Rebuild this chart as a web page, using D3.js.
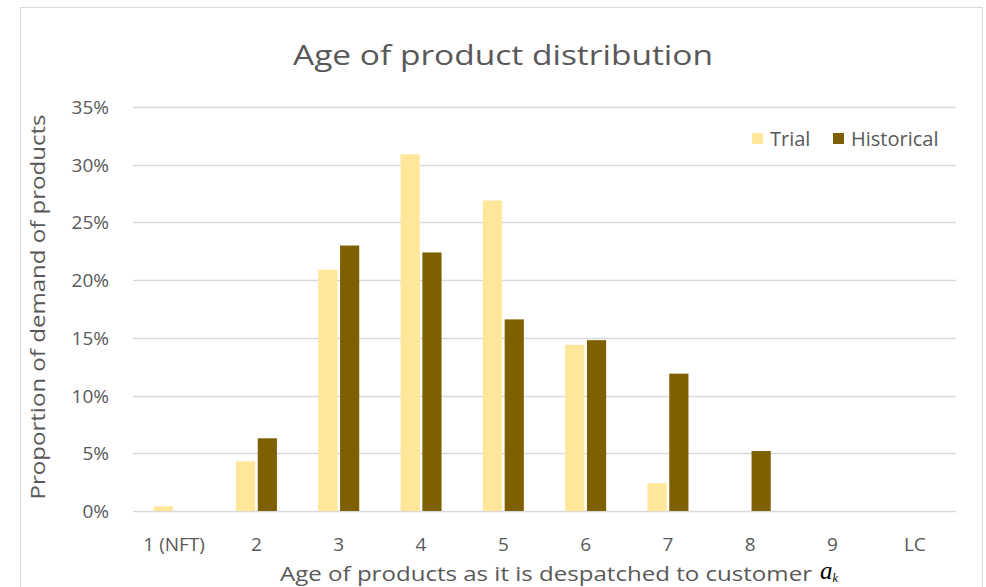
<!DOCTYPE html>
<html>
<head>
<meta charset="utf-8">
<script src="https://cdn.jsdelivr.net/npm/d3@7"></script>
<style>
  body { margin: 0; background: #fff; }
  text { font-family: "Open Sans", sans-serif; fill: #595959; }
</style>
</head>
<body>
<div id="chart"></div>
<script>
var categories = ["1 (NFT)", "2", "3", "4", "5", "6", "7", "8", "9", "LC"];
var trial = [0.4, 4.3, 20.9, 30.9, 26.9, 14.4, 2.4, 0, 0, 0];
var historical = [0, 6.3, 23.0, 22.4, 16.6, 14.8, 11.9, 5.2, 0, 0];
var yTicks = [0, 5, 10, 15, 20, 25, 30, 35];
var seriesNames = ["Trial", "Historical"];

var width = 986, height = 587;
var color = d3.scaleOrdinal().domain(seriesNames).range(["#FFE699", "#7F6000"]);

var svg = d3.select("#chart").append("svg")
  .attr("width", width)
  .attr("height", height);

// chart frame
svg.append("rect")
  .attr("x", 20.5).attr("y", 7.5)
  .attr("width", 962).attr("height", 600)
  .attr("fill", "#fff")
  .attr("stroke", "#D9D9D9");

var x = d3.scaleBand()
  .domain(categories)
  .range([133, 956]);

var x1 = d3.scaleBand()
  .domain(seriesNames)
  .range([0, 41])
  .paddingInner(0.12);

var y = d3.scaleLinear()
  .domain([0, 35])
  .range([511, 107]);

// gridlines
svg.append("g")
  .selectAll("line")
  .data(yTicks)
  .enter().append("line")
  .attr("x1", 133).attr("x2", 956)
  .attr("y1", function(d) { return Math.round(y(d)) + 0.5; })
  .attr("y2", function(d) { return Math.round(y(d)) + 0.5; })
  .attr("stroke", "#D9D9D9")
  .attr("stroke-width", 1.5);

// y tick labels
svg.append("g")
  .selectAll("text")
  .data(yTicks)
  .enter().append("text")
  .attr("x", 109)
  .attr("y", function(d) { return y(d) + 7; })
  .attr("text-anchor", "end")
  .style("font-size", "19px")
  .text(function(d) { return d + "%"; });

// bars
var rows = categories.map(function(c, i) {
  return { cat: c, values: [
    { name: "Trial", v: trial[i] },
    { name: "Historical", v: historical[i] }
  ] };
});

var groups = svg.append("g")
  .selectAll("g")
  .data(rows)
  .enter().append("g")
  .attr("transform", function(d) {
    return "translate(" + (x(d.cat) + x.bandwidth() / 2 - 20.5) + ",0)";
  });

groups.selectAll("rect")
  .data(function(d) { return d.values; })
  .enter().append("rect")
  .attr("x", function(d) { return x1(d.name); })
  .attr("width", x1.bandwidth())
  .attr("y", function(d) { return y(d.v); })
  .attr("height", function(d) { return y(0) - y(d.v); })
  .attr("fill", function(d) { return color(d.name); });

// x tick labels
svg.append("g")
  .selectAll("text")
  .data(categories)
  .enter().append("text")
  .attr("x", function(d) { return x(d) + x.bandwidth() / 2; })
  .attr("y", 551)
  .attr("text-anchor", "middle")
  .style("font-size", "19px")
  .text(function(d) { return d; });

// title
svg.append("text")
  .attr("x", 503)
  .attr("y", 65)
  .attr("text-anchor", "middle")
  .attr("textLength", 420)
  .attr("lengthAdjust", "spacingAndGlyphs")
  .style("font-size", "27px")
  .text("Age of product distribution");

// y axis title
svg.append("text")
  .attr("transform", "translate(45,307) rotate(-90)")
  .attr("text-anchor", "middle")
  .attr("textLength", 385)
  .attr("lengthAdjust", "spacingAndGlyphs")
  .style("font-size", "20px")
  .text("Proportion of demand of products");

// x axis title
svg.append("text")
  .attr("x", 280)
  .attr("y", 581)
  .attr("textLength", 532)
  .attr("lengthAdjust", "spacingAndGlyphs")
  .style("font-size", "20px")
  .text("Age of products as it is despatched to customer");

var ak = svg.append("text")
  .attr("x", 820)
  .attr("y", 579)
  .style("font-family", "'Liberation Serif', 'DejaVu Serif', serif")
  .style("font-style", "italic")
  .style("font-size", "25px")
  .style("fill", "#000");
ak.append("tspan").text("a");
ak.append("tspan")
  .attr("dy", 3)
  .style("font-size", "12px")
  .text("k");

// legend
var legend = svg.append("g")
  .selectAll("g")
  .data(seriesNames)
  .enter().append("g")
  .attr("transform", function(d, i) { return "translate(" + [752, 833][i] + ",133)"; });

legend.append("rect")
  .attr("width", 11).attr("height", 11)
  .attr("fill", function(d) { return color(d); });

legend.append("text")
  .attr("x", 18)
  .attr("y", 13)
  .style("font-size", "20px")
  .text(function(d) { return d; });
</script>
</body>
</html>
